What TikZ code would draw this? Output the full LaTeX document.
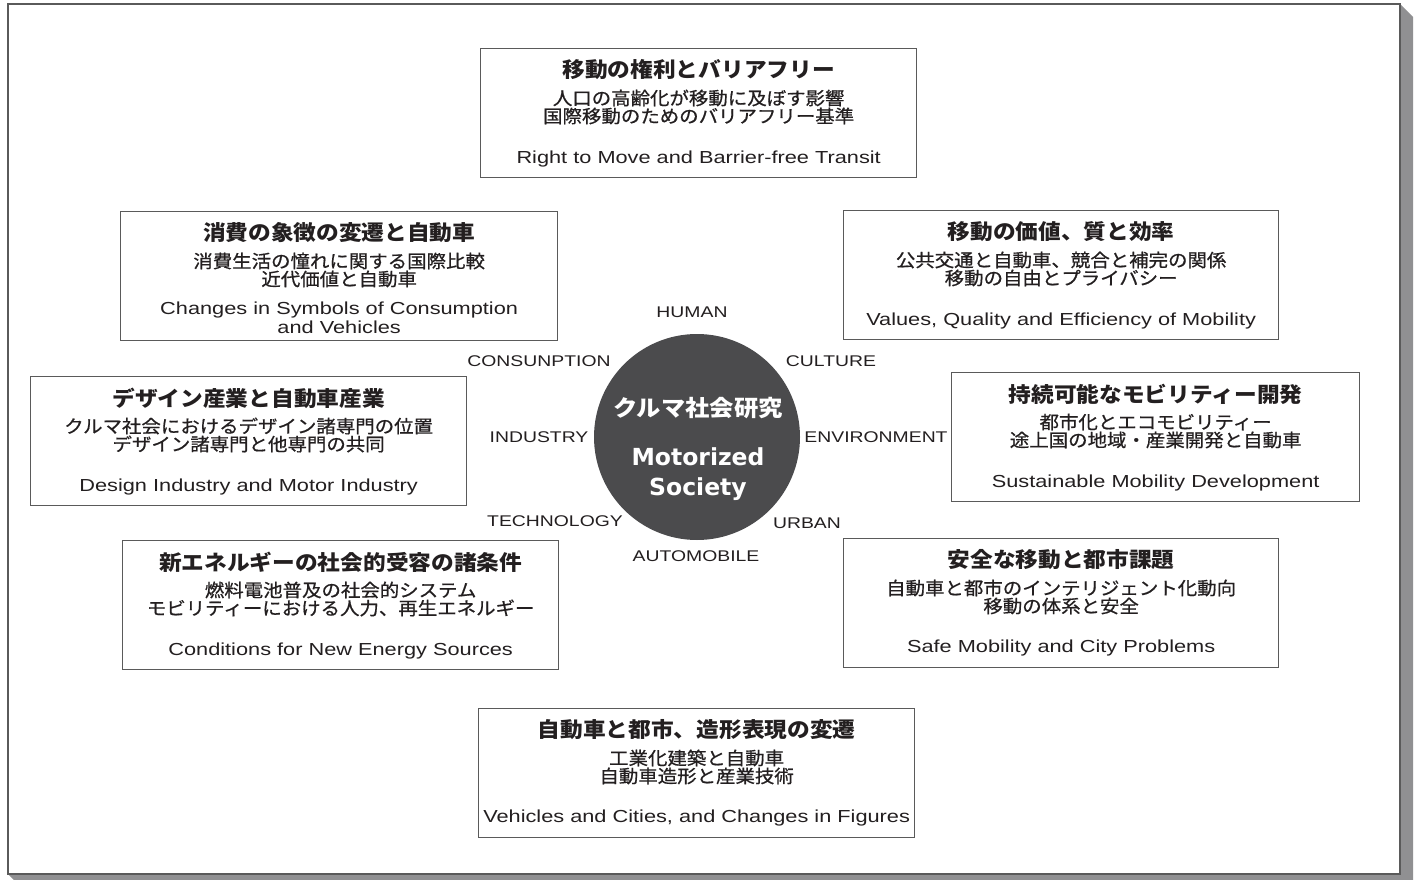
\documentclass[tikz,border=0pt]{standalone}
\usepackage{fontspec}
\usetikzlibrary{calc}
\setmainfont{Liberation Sans}[FakeStretch=1.25]
\newfontfamily\jp{Noto Sans CJK JP}[FakeStretch=1.08]
\newfontfamily\jpsub{Noto Sans CJK JP}[FakeStretch=1.08, FakeBold=0.7]
\newfontfamily\cen{DejaVu Sans}
\definecolor{txt}{HTML}{231F20}
\definecolor{boxgray}{HTML}{5A5A5A}
\definecolor{circgray}{HTML}{4B4B4D}
\definecolor{shadowgray}{HTML}{909092}
\newcommand\topicbox[9]{%
  \node[topic, minimum width=#4, anchor=north west] (#1) at (#2,#3) {};
  \node[ttl] (#1-t) at ($(#1.north)+(0,22)$) {#5};
  \node[sub] (#1-a) at ($(#1.north)+(0,50)$) {#6};
  \node[sub] (#1-b) at ($(#1.north)+(0,68)$) {#7};
  \node[eng] (#1-e) at ($(#1.north)+(0,#9)$) {#8};
}
\begin{document}
\begin{tikzpicture}[x=1pt,y=-1pt,
  topic/.style={draw=boxgray, line width=1.3pt, fill=white, minimum height=129, inner sep=0},
  ttl/.style={inner sep=0, text=txt, font=\jp\bfseries\fontsize{21}{23}\selectfont},
  sub/.style={inner sep=0, text=txt, font=\jpsub\fontsize{18}{20}\selectfont},
  eng/.style={inner sep=0, text=txt, align=center, font=\fontsize{17.4}{19}\selectfont},
  lbl/.style={inner sep=0, text=txt, font=\fontsize{15.5}{17}\selectfont},
  ctext/.style={inner sep=0, text=white}]
\useasboundingbox (0,0) rectangle (1417,880);
% frame with shadow
\fill[shadowgray] (1400,4) -- (1413,17) -- (1413,880) -- (14,880) -- (8,874) -- cycle;
\draw[boxgray, line width=1.5pt, fill=white] (8,4) rectangle (1400,874);

\topicbox{b1}{480}{48}{436}{移動の権利とバリアフリー}{人口の高齢化が移動に及ぼす影響}{国際移動のためのバリアフリー基準}{Right to Move and Barrier-free Transit}{111}
\topicbox{b2}{120}{211}{437}{消費の象徴の変遷と自動車}{消費生活の憧れに関する国際比較}{近代価値と自動車}{Changes in Symbols of Consumption\\and Vehicles}{107}
\topicbox{b3}{843}{210}{435}{移動の価値、質と効率}{公共交通と自動車、競合と補完の関係}{移動の自由とプライバシー}{Values, Quality and Efficiency of Mobility}{111}
\topicbox{b4}{30}{376}{436}{デザイン産業と自動車産業}{クルマ社会におけるデザイン諸専門の位置}{デザイン諸専門と他専門の共同}{Design Industry and Motor Industry}{111}
\topicbox{b5}{951}{372}{408}{持続可能なモビリティー開発}{都市化とエコモビリティー}{途上国の地域・産業開発と自動車}{Sustainable Mobility Development}{111}
\topicbox{b6}{122}{540}{436}{新エネルギーの社会的受容の諸条件}{燃料電池普及の社会的システム}{モビリティーにおける人力、再生エネルギー}{Conditions for New Energy Sources}{111}
\topicbox{b7}{843}{538}{435}{安全な移動と都市課題}{自動車と都市のインテリジェント化動向}{移動の体系と安全}{Safe Mobility and City Problems}{110}
\topicbox{b8}{478}{708}{436}{自動車と都市、造形表現の変遷}{工業化建築と自動車}{自動車造形と産業技術}{Vehicles and Cities, and Changes in Figures}{110}

% centre circle
\node[circle, fill=circgray, minimum size=206, inner sep=0] (c) at (697,437) {};
\node[ctext, font=\jp\bfseries\fontsize{22.5}{24}\selectfont] (cj) at (698,408) {クルマ社会研究};
\node[ctext, font=\cen\bfseries\fontsize{23.5}{26}\selectfont] (ce1) at (698,457) {Motorized};
\node[ctext, font=\cen\bfseries\fontsize{23.5}{26}\selectfont] (ce2) at (698,489) {Society};

% surrounding labels
\node[lbl] (human) at (692,312) {HUMAN};
\node[lbl] (cons) at (539,361) {CONSUNPTION};
\node[lbl] (cult) at (831,361) {CULTURE};
\node[lbl] (ind) at (539,437) {INDUSTRY};
\node[lbl] (env) at (876,437) {ENVIRONMENT};
\node[lbl] (tech) at (555,521) {TECHNOLOGY};
\node[lbl] (urb) at (807,523) {URBAN};
\node[lbl] (auto) at (696,556) {AUTOMOBILE};
\end{tikzpicture}
\end{document}
